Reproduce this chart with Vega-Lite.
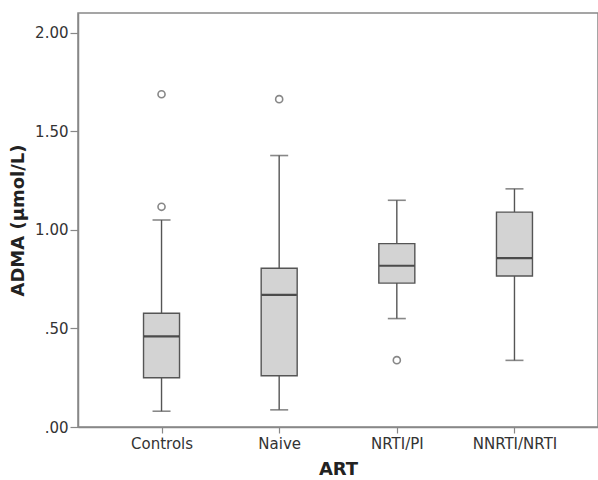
{
  "$schema": "https://vega.github.io/schema/vega-lite/v6.json",
  "autosize": {"type": "none"},
  "padding": {"left": 78, "top": 13, "right": 0, "bottom": 53},
  "width": 520,
  "height": 414,
  "background": "white",
  "datasets": {
    "stats": [
      {"ART": "Controls", "lo": 0.08, "q1": 0.25, "med": 0.46, "q3": 0.577, "hi": 1.05},
      {"ART": "Naive", "lo": 0.087, "q1": 0.26, "med": 0.67, "q3": 0.805, "hi": 1.377},
      {"ART": "NRTI/PI", "lo": 0.55, "q1": 0.73, "med": 0.818, "q3": 0.93, "hi": 1.15},
      {"ART": "NNRTI/NRTI", "lo": 0.338, "q1": 0.766, "med": 0.857, "q3": 1.09, "hi": 1.208}
    ],
    "outliers": [
      {"ART": "Controls", "value": 1.688},
      {"ART": "Controls", "value": 1.117},
      {"ART": "Naive", "value": 1.663},
      {"ART": "NRTI/PI", "value": 0.339}
    ]
  },
  "encoding": {
    "x": {
      "field": "ART",
      "type": "nominal",
      "sort": ["Controls", "Naive", "NRTI/PI", "NNRTI/NRTI"],
      "scale": {"type": "point", "padding": 0.71, "domain": ["Controls", "Naive", "NRTI/PI", "NNRTI/NRTI"]},
      "axis": {"title": "ART", "labelAngle": 0, "tickSize": 6, "labelPadding": 3, "titlePadding": 9}
    }
  },
  "layer": [
    {
      "data": {"name": "stats"},
      "mark": {"type": "rule", "color": "#555555", "strokeWidth": 1.4},
      "encoding": {
        "y": {"field": "lo", "type": "quantitative", "title": "ADMA (µmol/L)",
              "scale": {"domain": [0, 2.1], "nice": false, "zero": true},
              "axis": {"values": [0, 0.5, 1, 1.5, 2], "grid": false, "tickSize": 8, "labelPadding": 2, "titlePadding": 7,
                       "labelExpr": "datum.value < 1 ? replace(format(datum.value, '.2f'), '0.', '.') : format(datum.value, '.2f')"}},
        "y2": {"field": "hi"}
      }
    },
    {
      "data": {"name": "stats"},
      "mark": {"type": "tick", "color": "#555555", "thickness": 1.6, "size": 18},
      "encoding": {"y": {"field": "lo", "type": "quantitative", "title": "ADMA (µmol/L)"}}
    },
    {
      "data": {"name": "stats"},
      "mark": {"type": "tick", "color": "#555555", "thickness": 1.6, "size": 18},
      "encoding": {"y": {"field": "hi", "type": "quantitative", "title": "ADMA (µmol/L)"}}
    },
    {
      "data": {"name": "stats"},
      "mark": {"type": "bar", "size": 36, "fill": "#d3d3d3", "stroke": "#555555", "strokeWidth": 1.4},
      "encoding": {
        "y": {"field": "q1", "type": "quantitative", "title": "ADMA (µmol/L)"},
        "y2": {"field": "q3"}
      }
    },
    {
      "data": {"name": "stats"},
      "mark": {"type": "tick", "color": "#111111", "thickness": 2.2, "size": 35},
      "encoding": {"y": {"field": "med", "type": "quantitative", "title": "ADMA (µmol/L)"}}
    },
    {
      "data": {"name": "outliers"},
      "mark": {"type": "point", "shape": "circle", "filled": false, "size": 50, "stroke": "#555555", "strokeWidth": 1.6},
      "encoding": {"y": {"field": "value", "type": "quantitative", "title": "ADMA (µmol/L)"}}
    }
  ],
  "config": {
    "view": {"stroke": "#888888", "strokeWidth": 1.5},
    "axis": {
      "domainColor": "#888888",
      "domainWidth": 1.5,
      "tickColor": "#888888",
      "tickWidth": 1.2,
      "labelFont": "DejaVu Sans",
      "labelFontSize": 15,
      "labelColor": "#333333",
      "titleFont": "DejaVu Sans",
      "titleFontSize": 18,
      "titleFontWeight": "bold",
      "titleColor": "#222222",
      "grid": false
    }
  }
}
